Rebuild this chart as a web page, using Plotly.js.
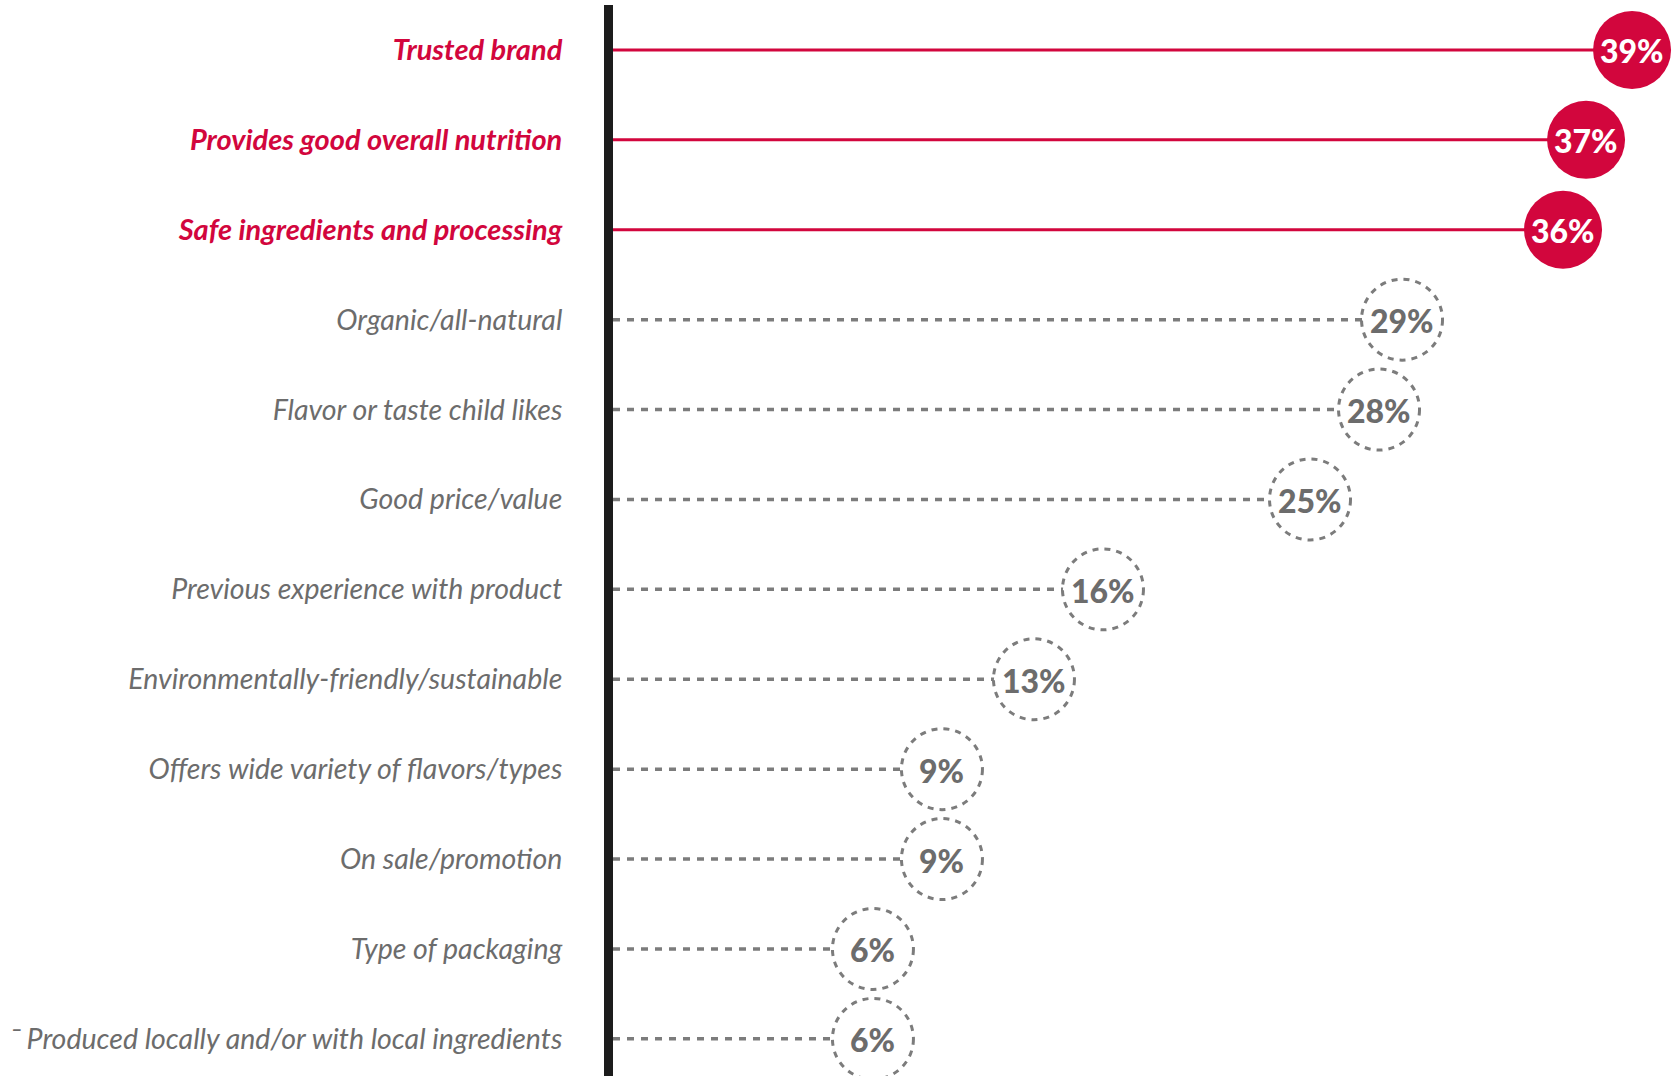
<!DOCTYPE html>
<html>
<head>
<meta charset="utf-8">
<script src="https://cdn.plot.ly/plotly-3.0.1.min.js"></script>
<style>
html,body{margin:0;padding:0;background:#fff;}
#chart{width:1673px;height:1076px;}
</style>
</head>
<body>
<div id="chart"></div>
<script>
// ---- data ----
const categories = [
  "Trusted brand",
  "Provides good overall nutrition",
  "Safe ingredients and processing",
  "Organic/all-natural",
  "Flavor or taste child likes",
  "Good price/value",
  "Previous experience with product",
  "Environmentally-friendly/sustainable",
  "Offers wide variety of flavors/types",
  "On sale/promotion",
  "Type of packaging",
  "Produced locally and/or with local ingredients"
];
const values = [39, 37, 36, 29, 28, 25, 16, 13, 9, 9, 6, 6];
const highlightCount = 3;   // first N categories are highlighted in red
const lastLabelMark = "¯ "; // small dash mark preceding the last label

// ---- styling ----
const RED = '#d2063d';
const GRAY_TEXT = '#6c6c6c';
const GRAY_LINE = '#7c7c7c';
const XMIN = -5.3, XMAX = 40.78;
const labelFont = 'Lato, "Open Sans", sans-serif';

const idx = categories.map((_, i) => i);
const hiIdx = idx.filter(i => i < highlightCount);
const loIdx = idx.filter(i => i >= highlightCount);

function stems(list) {
  const x = [], y = [];
  list.forEach(i => { x.push(XMIN, values[i], null); y.push(i, i, null); });
  return {x, y};
}
const hs = stems(hiIdx), ls = stems(loIdx);

const traces = [
  {x: hs.x, y: hs.y, mode: 'lines', line: {color: RED, width: 3}, hoverinfo: 'skip', cliponaxis: false},
  {x: ls.x, y: ls.y, mode: 'lines', line: {color: GRAY_LINE, width: 3.5, dash: '7px,7px'}, hoverinfo: 'skip', cliponaxis: false},
  {
    x: hiIdx.map(i => values[i]), y: hiIdx, mode: 'markers',
    marker: {size: 78, color: RED, line: {width: 0}},
    cliponaxis: false, hoverinfo: 'skip'
  },
  {
    x: loIdx.map(i => values[i]), y: loIdx, mode: 'markers',
    marker: {size: 80, color: '#ffffff', line: {width: 0}},
    cliponaxis: false, hoverinfo: 'skip'
  }
];

const shapes = loIdx.map(i => ({
  type: 'circle', xref: 'x', yref: 'y',
  xsizemode: 'pixel', ysizemode: 'pixel',
  xanchor: values[i], yanchor: i,
  x0: -40.5, x1: 40.5, y0: -40.5, y1: 40.5,
  line: {color: GRAY_LINE, width: 3, dash: '6px,6px'},
  layer: 'above'
}));

const annotations = idx.map(i => ({
  x: values[i], y: i, xref: 'x', yref: 'y',
  text: values[i] + '%', showarrow: false,
  xanchor: 'center', yanchor: 'middle', yshift: -1,
  font: {family: labelFont, size: 32, weight: 900,
         color: i < highlightCount ? '#ffffff' : GRAY_TEXT}
}));

const tickText = categories.map((c, i) => {
  if (i < highlightCount) {
    return '<b><span style="color:' + RED + ';font-size:29px">' + c + '</span></b>';
  }
  return (i === categories.length - 1 ? lastLabelMark : '') + c;
});

const layout = {
  width: 1673, height: 1076,
  margin: {l: 613, r: 0, t: 5, b: 0, pad: 0},
  paper_bgcolor: '#ffffff', plot_bgcolor: '#ffffff',
  showlegend: false,
  xaxis: {
    range: [XMIN, XMAX], showgrid: false, zeroline: false,
    showticklabels: false, ticks: '', showline: false, fixedrange: true
  },
  yaxis: {
    range: [11.413, -0.5], tickmode: 'array', tickvals: idx, ticktext: tickText,
    showgrid: false, zeroline: false, ticks: '',
    showline: true, linecolor: '#1c1c1c', linewidth: 9,
    ticklabelstandoff: 36,
    tickfont: {family: labelFont, size: 28.5, color: GRAY_TEXT, style: 'italic'},
    fixedrange: true
  },
  shapes: shapes,
  annotations: annotations
};

Plotly.newPlot('chart', traces, layout, {displayModeBar: false, staticPlot: true});
</script>
</body>
</html>
